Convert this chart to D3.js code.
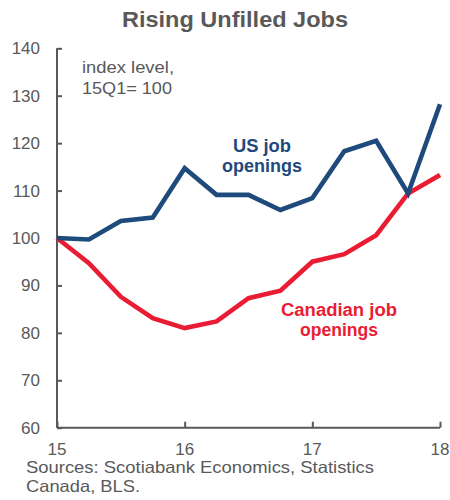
<!DOCTYPE html>
<html><head><meta charset="utf-8">
<script src="https://cdn.jsdelivr.net/npm/d3@7"></script>
<style>body{margin:0;background:#fff;} text{font-family:"Liberation Sans",Arial,sans-serif;}</style>
</head><body>
<svg id="c" width="450" height="500"></svg>
<script>
const quarters = [2015,2015.25,2015.5,2015.75,2016,2016.25,2016.5,2016.75,2017,2017.25,2017.5,2017.75,2018];
const usOpenings = [100,99.7,103.6,104.3,114.7,109.1,109.1,105.9,108.4,118.3,120.5,109.4,128.2];
const caOpenings = [100,94.7,87.6,83.1,81.0,82.4,87.3,88.9,95.0,96.6,100.6,109.4,113.3];
const xTicks = [2015,2016,2017,2018];
const xTickLabels = ["15","16","17","18"];
const yTicks = [60,70,80,90,100,110,120,130,140];

const svg = d3.select("#c");
const gray = "#595959";
const navy = "#1f4a7c";
const red = "#ea1c33";
const x = d3.scaleLinear().domain([2015,2018]).range([57,440]);
const y = d3.scaleLinear().domain([60,140]).range([427.7,48.3]);

function label(tx, ty, str, opts) {
  const t = svg.append("text").attr("x",tx).attr("y",ty)
    .attr("font-size",opts.size).attr("fill",opts.fill)
    .attr("font-weight",opts.bold ? "bold" : "normal")
    .attr("text-anchor",opts.anchor || "start").text(str);
  if (opts.w) t.attr("textLength",opts.w).attr("lengthAdjust","spacingAndGlyphs");
  return t;
}

label(235,27,"Rising Unfilled Jobs",{size:22.5,fill:gray,bold:true,anchor:"middle",w:226});

const yAxis = svg.append("g").attr("transform","translate(57,0)")
  .call(d3.axisRight(y).tickValues(yTicks).tickSize(5).tickFormat(""));
yAxis.select(".domain").attr("stroke",gray).attr("stroke-width",2).attr("d",`M0,${y(140)}V${y(60)}`);
yAxis.selectAll(".tick line").attr("stroke",gray).attr("stroke-width",2);

svg.append("g").selectAll("text").data(yTicks).join("text")
  .attr("x",40).attr("y",d=>y(d)+6).attr("text-anchor","end")
  .attr("font-size",17).attr("fill",gray).text(d=>d);

const xAxis = svg.append("g").attr("transform",`translate(0,${y(60)})`)
  .call(d3.axisTop(x).tickValues(xTicks).tickSize(6).tickFormat(""));
xAxis.select(".domain").attr("stroke",gray).attr("stroke-width",2).attr("d",`M${x(2015)},0H${x(2018)}`);
xAxis.selectAll(".tick line").attr("stroke",gray).attr("stroke-width",2);

svg.append("g").selectAll("text").data(xTicks).join("text")
  .attr("x",d=>x(d)).attr("y",455).attr("text-anchor","middle")
  .attr("font-size",17).attr("fill",gray).text((d,i)=>xTickLabels[i]);

const line = d3.line().x((d,i)=>x(quarters[i])).y(d=>y(d));
svg.append("path").attr("d",line(caOpenings)).attr("fill","none").attr("stroke",red).attr("stroke-width",4.6).attr("stroke-linejoin","miter");
svg.append("path").attr("d",line(usOpenings)).attr("fill","none").attr("stroke",navy).attr("stroke-width",4.6).attr("stroke-linejoin","miter");

label(82,73,"index level,",{size:16.5,fill:gray,w:92});
label(82,94,"15Q1= 100",{size:16.5,fill:gray,w:90});

label(262,152,"US job",{size:17.5,fill:navy,bold:true,anchor:"middle",w:58});
label(262,172,"openings",{size:17.5,fill:navy,bold:true,anchor:"middle",w:80});

label(339,316,"Canadian job",{size:17.5,fill:red,bold:true,anchor:"middle",w:116});
label(339,336,"openings",{size:17.5,fill:red,bold:true,anchor:"middle",w:78});

label(26,473,"Sources: Scotiabank Economics, Statistics",{size:16.5,fill:gray,w:348});
label(26,492,"Canada, BLS.",{size:16.5,fill:gray,w:114});
</script>
</body></html>
